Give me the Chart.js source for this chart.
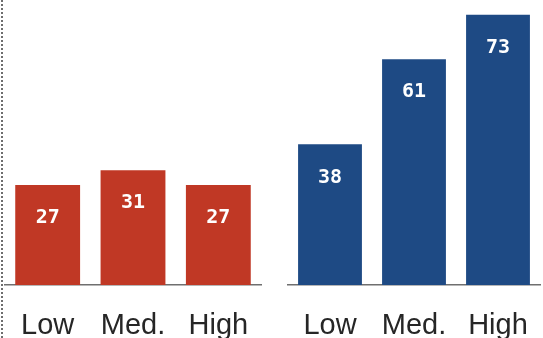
<!DOCTYPE html>
<html>
<head>
<meta charset="utf-8">
<script src="https://cdn.jsdelivr.net/npm/chart.js@4/dist/chart.umd.min.js"></script>
<style>
  html, body { margin: 0; padding: 0; background: #ffffff; }
  #wrap { position: relative; width: 543px; height: 338px; overflow: hidden; }
  .panel { position: absolute; top: 0; }
</style>
</head>
<body>
<div id="wrap">
  <canvas id="left" class="panel" width="272" height="338" style="left:0"></canvas>
  <canvas id="right" class="panel" width="263" height="338" style="left:280px"></canvas>
</div>
<script>
// Categories shared by both panels
const categories = ['Low', 'Med.', 'High'];
// Values for each panel
const redValues = [27, 31, 27];
const blueValues = [38, 61, 73];
// Common vertical range so both panels use the same scale
const yMax = 77;

const RED = '#c03825';
const BLUE = '#1e4a84';

// Writes each bar's value just inside its top edge
const valueLabels = {
  id: 'valueLabels',
  afterDatasetsDraw(chart) {
    const ctx = chart.ctx;
    ctx.save();
    ctx.font = 'bold 20px "DejaVu Sans Mono", monospace';
    ctx.fillStyle = '#ffffff';
    ctx.textAlign = 'center';
    ctx.textBaseline = 'middle';
    chart.data.datasets.forEach((ds, di) => {
      chart.getDatasetMeta(di).data.forEach((bar, i) => {
        ctx.fillText(String(ds.data[i]), bar.x, bar.y + 33);
      });
    });
    ctx.restore();
  }
};

// Dotted rule along the left edge
const edgeRule = {
  id: 'edgeRule',
  afterDraw(chart, args, opts) {
    if (!opts.show) return;
    const ctx = chart.ctx;
    ctx.save();
    ctx.strokeStyle = '#6e6e6e';
    ctx.lineWidth = 2;
    ctx.setLineDash([2, 2]);
    ctx.beginPath();
    ctx.moveTo(2, 0);
    ctx.lineTo(2, chart.height);
    ctx.stroke();
    ctx.restore();
  }
};

function makePanel(id, values, color, pad, showRule) {
  return new Chart(document.getElementById(id), {
    type: 'bar',
    data: {
      labels: categories,
      datasets: [{
        data: values,
        backgroundColor: color,
        borderWidth: 0,
        barPercentage: 1,
        categoryPercentage: 0.76
      }]
    },
    options: {
      responsive: false,
      animation: false,
      layout: { padding: pad },
      plugins: {
        legend: { display: false },
        tooltip: { enabled: false },
        edgeRule: { show: showRule }
      },
      scales: {
        x: {
          grid: { display: false, drawTicks: false },
          border: { display: true, color: '#6f6f6f', width: 1.5 },
          ticks: {
            color: '#262626',
            padding: 24,
            maxRotation: 0,
            minRotation: 0,
            font: { family: '"Liberation Sans", Arial, sans-serif', size: 29 }
          },
          afterFit(scale) {
            // fixed axis band; labels sit within their own categories
            scale.height = 53;
            scale.paddingLeft = 0;
            scale.paddingRight = 0;
          }
        },
        y: {
          display: false,
          min: 0,
          max: yMax
        }
      }
    },
    plugins: [valueLabels, edgeRule]
  });
}

makePanel('left', redValues, RED, { left: 5, right: 11, top: 0, bottom: 0 }, true);
makePanel('right', blueValues, BLUE, { left: 8, right: 3, top: 0, bottom: 0 }, false);
</script>
</body>
</html>
